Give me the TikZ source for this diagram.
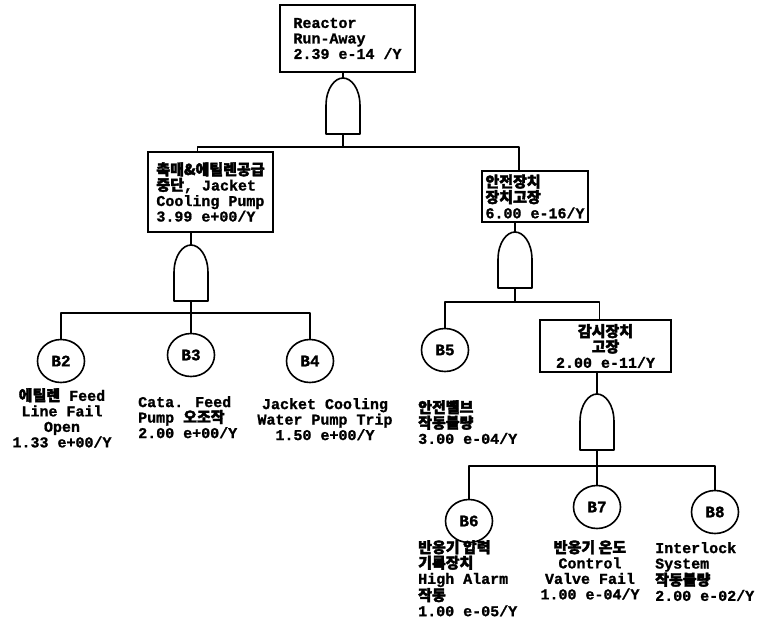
\documentclass[tikz,border=0pt]{standalone}
\usepackage{fontspec}
\setmainfont{Liberation Mono}[BoldFont={* Bold}, BoldFeatures={FakeBold=1.2}]
\newfontfamily\krfont{Noto Sans CJK KR}[Scale=1.0, FakeBold=2.5]
\newcommand{\ko}[1]{{\krfont #1}}
\usetikzlibrary{shapes.geometric}
\tikzset{
  ln/.style={line width=1.6pt, line join=round},
  evbox/.style={draw, line width=1.6pt, rectangle, inner sep=0pt,
     font=\bfseries\fontsize{15}{15.5}\selectfont},
  basic/.style={draw, line width=1.6pt, ellipse, minimum width=47pt, minimum height=43pt,
     inner sep=0pt, font=\bfseries\fontsize{16}{16}\selectfont},
  lbl/.style={inner sep=0pt, font=\bfseries\fontsize{15}{15.5}\selectfont},
  andgate/.pic={
    \draw[line width=1.6pt, line join=round] (-17,56) -- (-17,28) .. controls (-17,10) and (-8,0) .. (0,0)
      .. controls (8,0) and (17,10) .. (17,28) -- (17,56) -- cycle;
    \coordinate (-top) at (0,0);
    \coordinate (-bot) at (0,56);
  }
}
\begin{document}
\begin{tikzpicture}[x=1pt,y=-1pt]
\useasboundingbox (0,0) rectangle (763,625);
% top event
\node[evbox, align=left, minimum width=135pt, minimum height=67pt] (top) at (347.5,38.5)
  {Reactor\\Run-Away\\2.39 e-14 /Y};
\pic (g0) at (343,78) {andgate};
\draw[ln] (top.south -| g0-top) -- (g0-top);
% left intermediate
\node[evbox, align=left, minimum width=125pt, minimum height=80pt] (L) at (210.5,192)
  {\ko{촉매\&에틸렌공급}\\\ko{중단}, Jacket\\Cooling Pump\\3.99 e+00/Y};
% right intermediate
\node[evbox, align=left, minimum width=106pt, minimum height=51pt] (R) at (535,196.5)
  {\ko{안전장치}\\\ko{장치고장}\\6.00 e-16/Y};
\draw[ln] (g0-bot) -- ++(0,13) coordinate (bus0);
\draw[ln] ([xshift=-13pt]L.north) |- (bus0) -| ([xshift=-16pt]R.north);
% left gate
\pic (g1) at (191,245) {andgate};
\draw[ln] (L.south -| g1-top) -- (g1-top);
\node[basic] (B2) at (61,361) {B2};
\node[basic] (B3) at (191,355) {B3};
\node[basic] (B4) at (310,361) {B4};
\draw[ln] (g1-bot) -- (B3.north);
\coordinate (bus1) at (191,313);
\draw[ln] (B2.north) |- (bus1) -| (B4.north);
\node[lbl, align=center, anchor=north] (T2) at (62,388) {\ko{에틸렌} Feed\\Line Fail\\Open\\1.33 e+00/Y};
\node[lbl, align=left, anchor=north west] (T3) at (138,396) {Cata. Feed\\Pump \ko{오조작}\\2.00 e+00/Y};
\node[lbl, align=center, anchor=north] (T4) at (325,398) {Jacket Cooling\\Water Pump Trip\\1.50 e+00/Y};
% right gate
\pic (g2) at (515,232) {andgate};
\draw[ln] (R.south -| g2-top) -- (g2-top);
\node[basic] (B5) at (445,350) {B5};
\node[evbox, align=center, minimum width=131pt, minimum height=52pt] (S) at (605.5,346)
  {\ko{감시장치}\\\ko{고장}\\2.00 e-11/Y};
\coordinate (bus2) at (515,302);
\draw[ln] (g2-bot) -- (bus2);
\draw[ln] (B5.north) |- (bus2) -| ([xshift=-6pt]S.north);
\node[lbl, align=left, anchor=north west] (T5) at (418,400) {\ko{안전밸브}\\\ko{작동불량}\\3.00 e-04/Y};
% lower gate
\pic (g3) at (597,394) {andgate};
\draw[ln] (S.south -| g3-top) -- (g3-top);
\node[basic] (B6) at (469,521) {B6};
\node[basic] (B7) at (597,507) {B7};
\node[basic] (B8) at (715,512) {B8};
\draw[ln] (g3-bot) -- (B7.north);
\coordinate (bus3) at (597,466);
\draw[ln] (B6.north) |- (bus3) -| (B8.north);
\node[lbl, align=left, anchor=north west] (T6) at (418,540) {\ko{반응기 압력}\\\ko{기록장치}\\High Alarm\\\ko{작동}\\1.00 e-05/Y};
\node[lbl, align=center, anchor=north] (T7) at (590,540) {\ko{반응기 온도}\\Control\\Valve Fail\\1.00 e-04/Y};
\node[lbl, align=left, anchor=north west] (T8) at (655,542) {Interlock\\System\\\ko{작동불량}\\2.00 e-02/Y};
\end{tikzpicture}
\end{document}
